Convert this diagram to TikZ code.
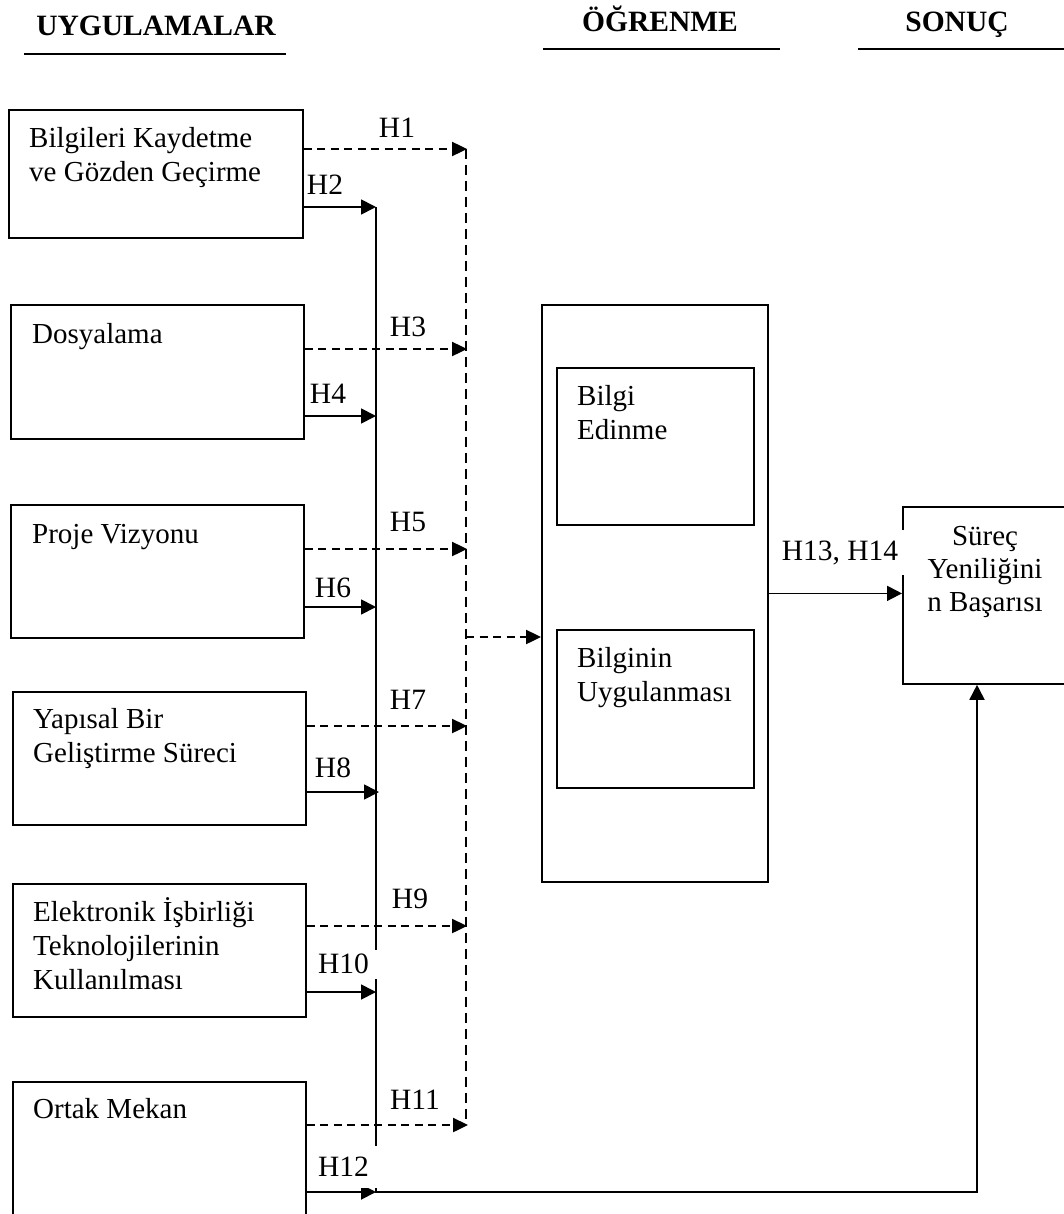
\documentclass[tikz,border=0pt]{standalone}
\usepackage{fontspec}
\setmainfont{Liberation Serif}
\usetikzlibrary{arrows.meta, positioning, calc}

\begin{document}
\begin{tikzpicture}[x=1pt, y=-1pt]
	% Define styles for boxes, texts and arrows
	\tikzstyle{box} = [rectangle, draw=black, line width=1.8pt, inner sep=0pt, anchor=north west]
	\tikzstyle{txt} = [inner sep=0pt, anchor=north west, align=left, font=\fontsize{29}{34}\selectfont]
	\tikzstyle{head} = [inner sep=0pt, anchor=base, font=\fontsize{29.5}{34}\selectfont\bfseries]
	\tikzstyle{hlabel} = [inner sep=0pt, anchor=base, font=\fontsize{29.5}{34}\selectfont]
	\tikzstyle{cover} = [fill=white, inner sep=0pt, font=\fontsize{29.5}{34}\selectfont]
	\tikzstyle{rule} = [line width=2.2pt]
	\tikzstyle{solidline} = [line width=1.8pt]
	\tikzstyle{dashline} = [line width=2.4pt, dash pattern=on 10pt off 6pt]
	\tikzstyle{arrow} = [line width=1.8pt, -{Triangle[length=15pt, width=15pt]}]
	\tikzstyle{dasharrow} = [line width=2.4pt, dash pattern=on 8pt off 5.5pt, -{Triangle[length=15pt, width=14pt]}]
	
	\useasboundingbox (0,0) rectangle (1064,1214);
	\clip (0,0) rectangle (1064,1214);
	
	% Column headings
	\node[head] (uyg) at (156,36) {UYGULAMALAR};
	\node[head] (ogr) at (660,32) {ÖĞRENME};
	\node[head] (son) at (957,32) {SONUÇ};
	\draw[rule] (24,54) -- (286,54);
	\draw[rule] (543,49) -- (780,49);
	\draw[rule] (858,49) -- (1064,49);
	
	% Draw the practice boxes
	\node[box, minimum width=294, minimum height=128] (kayit) at (8,109) {};
	\node[box, minimum width=293, minimum height=134] (dosya) at (10,304) {};
	\node[box, minimum width=293, minimum height=133] (vizyon) at (10,504) {};
	\node[box, minimum width=293, minimum height=133] (yapisal) at (12,691) {};
	\node[box, minimum width=293, minimum height=133] (elektronik) at (12,883) {};
	\node[box, minimum width=293, minimum height=160] (mekan) at (12,1081) {};
	\node[txt] (kayit-t) at (29,123.2) {\strut Bilgileri Kaydetme\\ve Gözden Geçirme};
	\node[txt] (dosya-t) at (32,319.2) {\strut Dosyalama};
	\node[txt] (vizyon-t) at (32,519.2) {\strut Proje Vizyonu};
	\node[txt] (yapisal-t) at (33,704.2) {\strut Yapısal Bir\\Geliştirme Süreci};
	\node[txt] (elektronik-t) at (33,897.2) {\strut Elektronik İşbirliği\\Teknolojilerinin\\Kullanılması};
	\node[txt] (mekan-t) at (33,1094.2) {\strut Ortak Mekan};
	
	% Draw the learning box and the outcome box
	\node[box, minimum width=226, minimum height=577] (ogrenme) at (541,304) {};
	\node[box, minimum width=197, minimum height=157] (edinme) at (556,367) {};
	\node[box, minimum width=197, minimum height=158] (uygulama) at (556,629) {};
	\node[txt] (edinme-t) at (577,381.2) {\strut Bilgi\\Edinme};
	\node[txt] (uygulama-t) at (577,643.2) {\strut Bilginin\\Uygulanması};
	\node[box, minimum width=200, minimum height=177] (surec) at (902,506) {};
	\node[txt, anchor=north, align=center, font=\fontsize{29}{33}\selectfont] (surec-t) at (985,521.9) {\strut Süreç\\Yeniliğini\\n Başarısı};
	
	% Ends of the arrows on the two collecting lines
	\coordinate (d1) at (467,149);
	\coordinate (d3) at (467,349);
	\coordinate (d5) at (467,549);
	\coordinate (d7) at (467,726);
	\coordinate (d9) at (467,926);
	\coordinate (d11) at (468,1125);
	\coordinate (d-in) at (466,637);
	\coordinate (s2) at (376,207);
	\coordinate (s4) at (376,416);
	\coordinate (s6) at (376,607);
	\coordinate (s8) at (379,792);
	\coordinate (s10) at (376,992);
	\coordinate (s12) at (376,1192);
	\coordinate (kose) at (977,1192);
	
	% Collecting lines
	\draw[dashline] (466,149) -- (466,1125);
	\draw[dasharrow] (d-in) -- (ogrenme.west |- d-in);
	\draw[arrow] (s2) -- (s12) -- (kose) -- (kose |- surec.south);
	
	% Dashed arrows to learning
	\draw[dasharrow] (kayit.east |- d1) -- (d1);
	\draw[dasharrow] (dosya.east |- d3) -- (d3);
	\draw[dasharrow] (vizyon.east |- d5) -- (d5);
	\draw[dasharrow] (yapisal.east |- d7) -- (d7);
	\draw[dasharrow] (elektronik.east |- d9) -- (d9);
	\draw[dasharrow] (mekan.east |- d11) -- (d11);
	
	% Solid arrows to the outcome line
	\draw[arrow] (kayit.east |- s2) -- (s2);
	\draw[arrow] (dosya.east |- s4) -- (s4);
	\draw[arrow] (vizyon.east |- s6) -- (s6);
	\draw[arrow] (yapisal.east |- s8) -- (s8);
	\draw[arrow] (elektronik.east |- s10) -- (s10);
	\draw[arrow] (mekan.east |- s12) -- (s12);
	\draw[arrow] (ogrenme.east) -- (ogrenme.east -| surec.west);
	
	% Hypothesis labels
	\node[hlabel] (h1) at (397,138) {H1};
	\node[hlabel] (h2) at (325,195) {H2};
	\node[hlabel] (h3) at (408,336) {H3};
	\node[hlabel] (h4) at (328,403) {H4};
	\node[hlabel] (h5) at (408,531) {H5};
	\node[hlabel] (h6) at (333,597) {H6};
	\node[hlabel] (h7) at (408,709) {H7};
	\node[hlabel] (h8) at (333,777) {H8};
	\node[hlabel] (h9) at (410,908) {H9};
	\node[cover, minimum width=69, minimum height=29] (h10) at (343.5,964) {H10};
	\node[hlabel] (h11) at (415,1109) {H11};
	\node[cover, minimum width=69, minimum height=42] (h12) at (343.5,1167) {H12};
	\node[cover, minimum width=130, minimum height=45] (h13) at (840,552.5) {H13, H14};
\end{tikzpicture}
\end{document}
